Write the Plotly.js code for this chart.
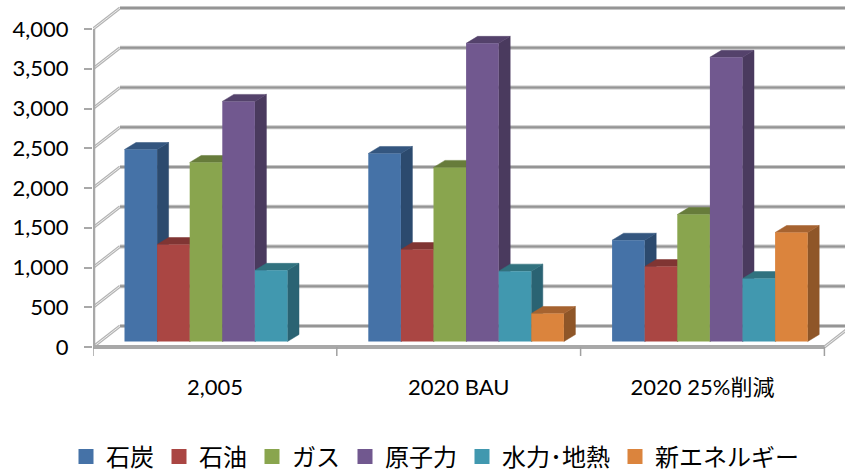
<!DOCTYPE html>
<html>
<head>
<meta charset="utf-8">
<script src="https://cdn.plot.ly/plotly-3.0.1.min.js"></script>
<style>html,body{margin:0;padding:0;background:#fff}</style>
</head>
<body>
<div id="chart" style="width:845px;height:472px"></div>
<script>
// Energy mix by scenario
const categories = ["2,005", "2020 BAU", "2020 25%削減"];
const coal    = [2415, 2365, 1274];
const oil     = [1220, 1157, 943];
const gas     = [2252, 2190, 1597];
const nuclear = [3020, 3750, 3575];
const hydro   = [895, 885, 792];
const newEnergy = [0, 352, 1371];
const seriesNames = ["石炭", "石油", "ガス", "原子力", "水力･地熱", "新エネルギー"];
const seriesValues = [coal, oil, gas, nuclear, hydro, newEnergy];
const yTicks = [0, 500, 1000, 1500, 2000, 2500, 3000, 3500, 4000];

const frontColors = ["#4572A7", "#AA4643", "#89A54E", "#71588F", "#4198AF", "#DB843D"];
const sideColors  = ["#2C4A6E", "#6F2E2C", "#5A6C33", "#4A3A5E", "#2A6373", "#8F5628"];
const topColors   = ["#34567F", "#803533", "#677C3B", "#54426B", "#31727F", "#A66330"];

// Oblique projection, expressed in axis units
const groupPx = 243.8, plotW = 752, plotH = 358, zeroPx = 347, valPx = 318 / 4000;
const xUnit = 1 / groupPx, yUnit = 1 / valPx;
const wallDx = 27 * xUnit, wallDy = 21 * yUnit;
const barLift = 5.5 * yUnit, barInset = 31.5 * xUnit;
const barW = 32.6 * xUnit, barDx = 11.5 * xUnit, barDy = 7 * yUnit;
const xMax = plotW * xUnit;
const yRange = [(zeroPx - plotH) * yUnit, zeroPx * yUnit];

const traces = [];
const line = (x, y, color, width) => traces.push({
  type: "scatter", mode: "lines", x, y, showlegend: false, hoverinfo: "skip",
  cliponaxis: false, line: { color, width }
});
const face = (x, y, color) => traces.push({
  type: "scatter", mode: "lines", x, y, fill: "toself", fillcolor: color,
  showlegend: false, hoverinfo: "skip", line: { color, width: 0.5 }
});

// Walls: slanted side rule plus the rule along the back
yTicks.forEach(v => {
  const xs = [0, wallDx], ys = [v, v + wallDy];
  line(xs, ys, "#b4b4b4", 3);
  line(xs, ys, "#ececec", 1);
  const bx = [wallDx, 3 + wallDx], by = [v + wallDy, v + wallDy];
  line(bx, by, "#c6c6c6", 4);
  line(bx, by, "#959595", 2);
});
// Floor right edge, front edge, vertical axis and group ticks
line([3, 3 + wallDx], [0, wallDy], "#b4b4b4", 3);
line([3, 3 + wallDx], [0, wallDy], "#ececec", 1);
line([0, 3], [0, 0], "#a8a8a8", 4);
line([0, 0], [0, 4000], "#a8a8a8", 4.5);
[0, 1, 2, 3].forEach(g => line([g, g], [0, -9 * yUnit], "#a0a0a0", 1.5));

// Depth faces of each bar, left to right
categories.forEach((c, g) => {
  seriesValues.forEach((vals, k) => {
    const v = vals[g];
    if (!v) return;
    const x0 = g + barInset + k * barW, x1 = x0 + barW, top = barLift + v;
    face([x1, x1, x1 + barDx, x1 + barDx, x1],
         [barLift, top, top + barDy, barLift + barDy, barLift], sideColors[k]);
    face([x0, x1, x1 + barDx, x0 + barDx, x0],
         [top, top, top + barDy, top + barDy, top], topColors[k]);
  });
});

// Front faces sit in an overlaying subplot so they cover the depth faces
seriesValues.forEach((vals, k) => traces.push({
  type: "bar", x: categories.map((c, g) => g + barInset + k * barW), y: vals,
  base: barLift, width: barW, offset: 0, xaxis: "x2", yaxis: "y2",
  name: seriesNames[k], legendgroup: seriesNames[k], showlegend: false,
  marker: { color: frontColors[k], line: { width: 0 } }
}));

// Legend keys
seriesNames.forEach((n, k) => traces.push({
  type: "scatter", mode: "markers", x: [null], y: [null], name: n, legendgroup: n,
  marker: { symbol: "square", size: 15, color: frontColors[k] }
}));

const layout = {
  width: 845, height: 472, paper_bgcolor: "#fff", plot_bgcolor: "#fff",
  margin: { l: 93, r: 0, t: 0, b: 472 - plotH, autoexpand: false },
  font: { family: "Lato, 'Noto Sans CJK JP'", color: "#000", size: 22 },
  barmode: "overlay",
  xaxis: {
    range: [0, xMax], tickmode: "array", tickvals: [0.5, 1.5, 2.5], ticktext: categories,
    showgrid: false, zeroline: false, showline: false, ticks: "", ticklabelstandoff: 14,
    tickfont: { family: "Lato, 'Noto Sans CJK JP'", size: 22, color: "#000" }
  },
  yaxis: {
    range: yRange, tickmode: "array", tickvals: yTicks, ticktext: yTicks.map(v => v.toLocaleString("en-US")),
    showgrid: false, zeroline: false, showline: false, ticks: "outside", ticklen: 8,
    tickcolor: "#a8a8a8", tickwidth: 2, ticklabelstandoff: 11,
    tickfont: { family: "Lato", size: 22, color: "#000" }
  },
  xaxis2: { overlaying: "x", range: [0, xMax], visible: false },
  yaxis2: { overlaying: "y", range: yRange, visible: false },
  legend: {
    orientation: "h", x: (66 - 93) / plotW, xanchor: "left", y: (plotH - 457) / plotH, yanchor: "middle",
    font: { family: "'Noto Sans CJK JP'", size: 24, color: "#000" }, bgcolor: "rgba(0,0,0,0)", itemclick: false
  },
  showlegend: true
};
Plotly.newPlot("chart", traces, layout, { displayModeBar: false, staticPlot: true });
</script>
</body>
</html>
